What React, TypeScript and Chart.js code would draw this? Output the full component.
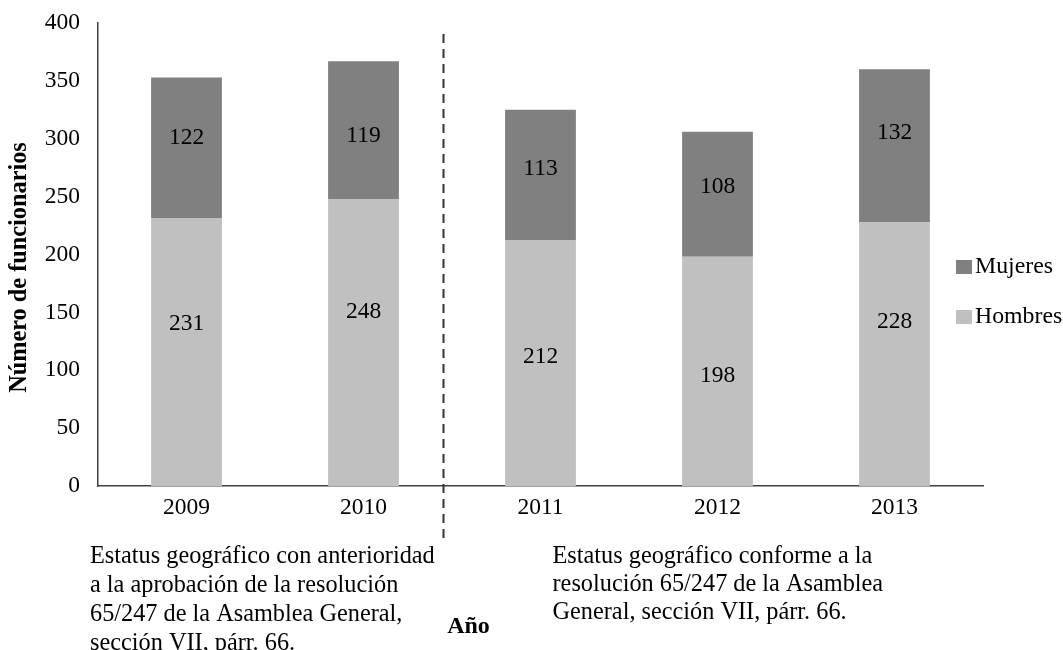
import React, { useEffect, useRef } from 'react';
import { Chart, registerables } from 'chart.js';

Chart.register(...registerables);

const years = ['2009', '2010', '2011', '2012', '2013'];
const hombres = [231, 248, 212, 198, 228];
const mujeres = [122, 119, 113, 108, 132];
const seriesNames = ['Hombres', 'Mujeres'];
const yAxisTitle = 'Número de funcionarios';
const xAxisTitle = 'Año';
const noteLeft = [
  'Estatus geográfico con anterioridad',
  'a la aprobación de la resolución',
  '65/247 de la Asamblea General,',
  'sección VII, párr. 66.',
];
const noteRight = [
  'Estatus geográfico conforme a la',
  'resolución 65/247 de la Asamblea',
  'General, sección VII, párr. 66.',
];

// label nudges in px (style only)
const labelShift = [
  [-28, -31, -6, 4, -32],
  [-10, 6, -6, -7, -13],
];

const FONT = "'Liberation Serif', 'Times New Roman', serif";
const COLORS = ['#c0c0c0', '#808080'];

const overlay = {
  id: 'overlay',
  afterDatasetsDraw(chart: any) {
    const ctx = chart.ctx;
    const xs = chart.scales.x;
    const area = chart.chartArea;
    ctx.save();
    // value labels
    ctx.font = `23.5px ${FONT}`;
    ctx.fillStyle = '#000';
    ctx.textAlign = 'center';
    ctx.textBaseline = 'middle';
    chart.data.datasets.forEach((ds: any, di: number) => {
      const meta = chart.getDatasetMeta(di);
      meta.data.forEach((bar: any, i: number) => {
        const p = bar.getProps(['x', 'y', 'base'], true);
        const cy = (p.y + p.base) / 2 + (labelShift[di]?.[i] ?? 0);
        ctx.fillText(String(ds.data[i]), p.x, cy);
      });
    });
    // dashed separator
    const xd = Math.round(xs.getPixelForValue(1.45)) + 0.5;
    ctx.strokeStyle = '#333333';
    ctx.lineWidth = 2;
    ctx.setLineDash([9, 6]);
    ctx.beginPath();
    ctx.moveTo(xd, area.top + 11);
    ctx.lineTo(xd, area.bottom + 54);
    ctx.stroke();
    ctx.setLineDash([]);
    // notes
    ctx.textAlign = 'left';
    ctx.font = `24.3px ${FONT}`;
    noteLeft.forEach((t, i) => ctx.fillText(t, area.left - 8, area.bottom + 71 + i * 29));
    const xr = xs.getPixelForValue(2) + 12;
    noteRight.forEach((t, i) => ctx.fillText(t, xr, area.bottom + 71 + i * 28));
    // x title
    ctx.font = `bold 24px ${FONT}`;
    ctx.textAlign = 'center';
    ctx.fillText(xAxisTitle, xd + 25, area.bottom + 141);
    // y title
    ctx.save();
    ctx.translate(20, (area.top + area.bottom) / 2 + 13);
    ctx.rotate(-Math.PI / 2);
    ctx.font = `bold 24.3px ${FONT}`;
    ctx.fillText(yAxisTitle, 0, 0);
    ctx.restore();
    // legend (reverse order)
    ctx.font = `23.8px ${FONT}`;
    ctx.textAlign = 'left';
    const order = [1, 0];
    order.forEach((di, k) => {
      const ds = chart.data.datasets[di];
      const ly = 267 + k * 50;
      ctx.fillStyle = ds.backgroundColor;
      ctx.fillRect(956, ly - 7, 16, 14);
      ctx.fillStyle = '#000';
      ctx.fillText(ds.label, 975, ly);
    });
    ctx.restore();
  },
};

export default function App() {
  const ref = useRef<HTMLCanvasElement | null>(null);
  useEffect(() => {
    document.body.style.margin = '0';
    const canvas = ref.current;
    if (!canvas) return;
    const chart = new Chart(canvas, {
      type: 'bar',
      data: {
        labels: years,
        datasets: [
          { label: seriesNames[0], data: hombres, backgroundColor: COLORS[0], categoryPercentage: 1, barPercentage: 0.4 },
          { label: seriesNames[1], data: mujeres, backgroundColor: COLORS[1], categoryPercentage: 1, barPercentage: 0.4 },
        ],
      },
      options: {
        responsive: false,
        animation: false,
        layout: { padding: { top: 23, right: 80, left: 0, bottom: 0 } },
        plugins: { legend: { display: false }, tooltip: { enabled: false } },
        scales: {
          x: {
            stacked: true,
            grid: { display: false, drawTicks: false },
            border: { display: true, color: '#404040', width: 1.5 },
            ticks: { color: '#000', font: { family: FONT, size: 23.5 }, padding: 8 },
            afterFit: (s: any) => { s.height = 164; },
          },
          y: {
            stacked: true,
            min: 0,
            max: 400,
            grid: { display: false, drawTicks: false },
            border: { display: true, color: '#404040', width: 1.5 },
            ticks: { stepSize: 50, color: '#000', font: { family: FONT, size: 23.5, lineHeight: 0.3 }, padding: 18 },
            afterFit: (s: any) => { s.width = 98; },
          },
        },
      },
      plugins: [overlay],
    });
    return () => chart.destroy();
  }, []);
  return (
    <div style={{ width: 1063, height: 650, background: '#fff' }}>
      <canvas ref={ref} width={1063} height={650} style={{ display: 'block' }} />
    </div>
  );
}
